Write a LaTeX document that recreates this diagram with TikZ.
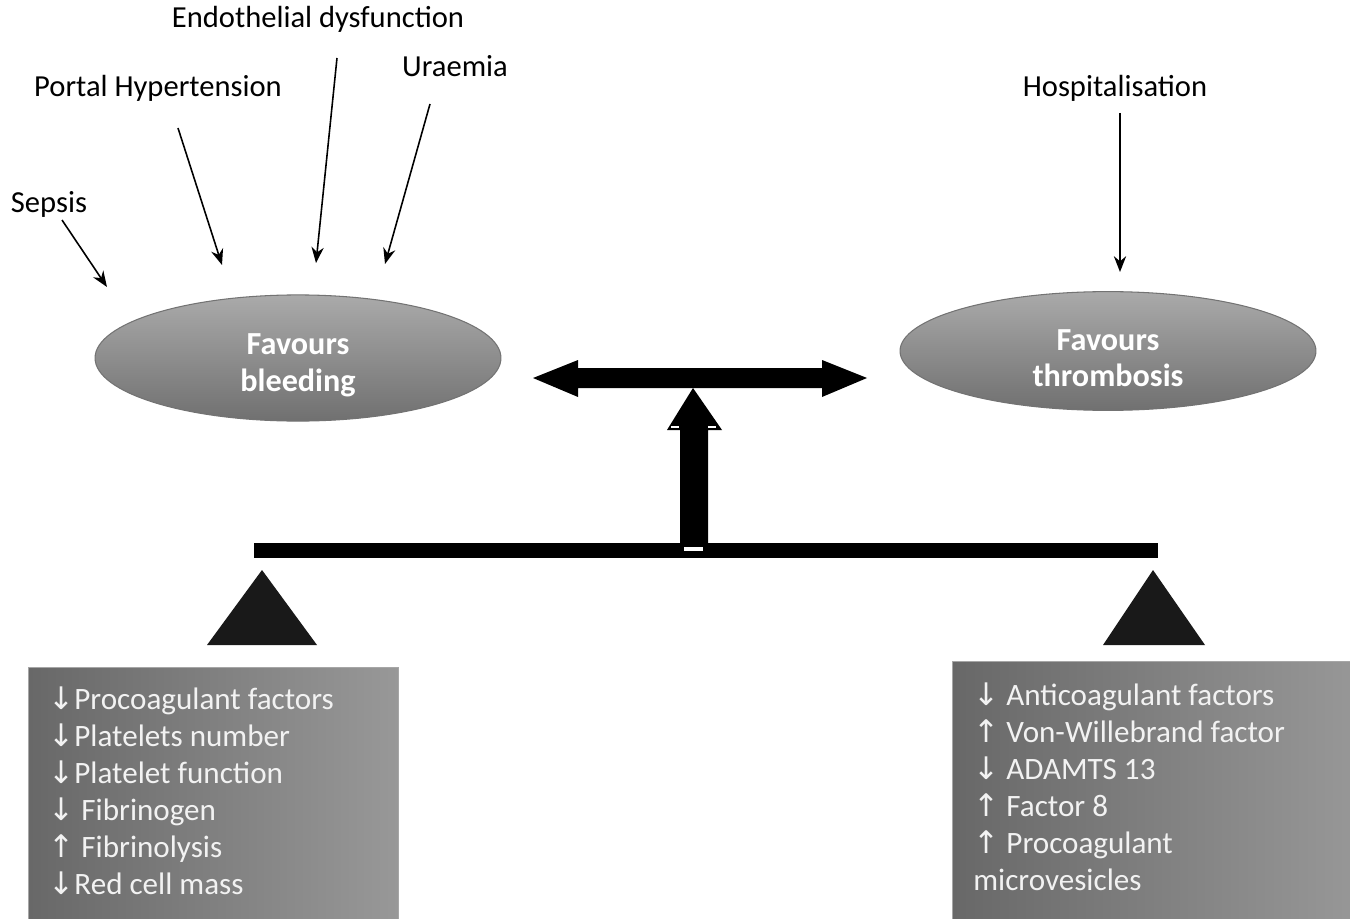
\documentclass[tikz,border=0pt]{standalone}
\usepackage{fontspec}
\setmainfont{Carlito}
\newfontfamily\arrfont{DejaVu Sans}
\usetikzlibrary{shapes.geometric,arrows.meta}
\newcommand{\DnA}{{\arrfont ↓}}
\newcommand{\UpA}{{\arrfont ↑}}
\definecolor{boxL}{RGB}{104,104,104}
\definecolor{boxR}{RGB}{152,152,152}
\definecolor{ovT}{RGB}{170,170,170}
\definecolor{ovB}{RGB}{112,112,112}
\begin{document}
\begin{tikzpicture}[x=0.02cm,y=-0.02cm,
  lbl/.style={font=\fontsize{17.4}{20}\selectfont, inner sep=0pt},
  cause/.style={-{Stealth[length=9pt,width=7pt]}, line width=0.9pt},
  oval/.style={ellipse, draw=black!55, line width=0.6pt, top color=ovT, bottom color=ovB,
    text=white, font=\bfseries\fontsize{18.3}{21}\selectfont, align=center, text height=41pt},
  panel/.style={rectangle, draw=black!35, line width=0.8pt, left color=boxL, right color=boxR, inner sep=0pt},
  paneltext/.style={text=white!95!black, font=\fontsize{17.7}{21.1}\selectfont, align=left, inner sep=0pt, anchor=north west},
  solid/.style={fill=black}
]
\useasboundingbox (0,0) rectangle (1350,919);
\clip (0,0) rectangle (1350,919);

% labels
\node[lbl] (endo) at (318,19) {Endothelial dysfunction};
\node[lbl] (portal) at (158,88) {Portal Hypertension};
\node[lbl] (urae) at (455,66) {Uraemia};
\node[lbl] (sepsis) at (49,204) {Sepsis};
\node[lbl] (hosp) at (1115,88) {Hospitalisation};

\coordinate (s0) at (62,220);   \coordinate (s1) at (107,287);
\coordinate (p0) at (178,128);  \coordinate (p1) at (222,265);
\coordinate (e0) at (337,58);   \coordinate (e1) at (316,263);
\coordinate (u0) at (430,104);  \coordinate (u1) at (385,264);
\coordinate (h0) at (1120,113); \coordinate (h1) at (1120,272);
\draw[cause] (s0) -- (s1);
\draw[cause] (p0) -- (p1);
\draw[cause] (e0) -- (e1);
\draw[cause] (u0) -- (u1);
\draw[cause] (h0) -- (h1);

% ovals
\node[oval, minimum width=8.12cm, minimum height=2.48cm] (bleed) at (298,358) {Favours\\bleeding};
\node[oval, minimum width=8.32cm, minimum height=2.24cm] (thromb) at (1108,351) {Favours\\thrombosis};

% double arrow
\fill[solid] (533,378) -- (578,360) -- (578,368) -- (822,368) -- (822,360) -- (867,378)
  -- (822,397) -- (822,388) -- (578,388) -- (578,397) -- cycle;
% vertical arrow
\fill[solid] (693,388) -- (722,430) -- (708,430) -- (708,550) -- (680,550) -- (680,430) -- (667,430) -- cycle;
% beam
\fill[solid] (254,543) rectangle (1158,558);
\fill[white] (684,547) rectangle (703,551);
\fill[white] (671,426) rectangle (679,428);
\fill[white] (708,426) rectangle (716,428);
% fulcrums
\fill[black!90] (262,570) -- (317,645) -- (207,645) -- cycle;
\fill[black!90] (1153,570) -- (1205,645) -- (1103,645) -- cycle;

% panels
\node[panel, anchor=north west, minimum width=7.4cm, minimum height=6cm] (lbox) at (28,667) {};
\node[panel, anchor=north west, minimum width=8.2cm, minimum height=6cm] (rbox) at (952,661) {};
\node[paneltext] (ltext) at (48,686) {\DnA Procoagulant factors\\ \DnA Platelets number\\ \DnA Platelet function\\ \DnA{} Fibrinogen\\ \UpA{} Fibrinolysis\\ \DnA Red cell mass};
\node[paneltext] (rtext) at (973,682) {\DnA{} Anticoagulant factors\\ \UpA{} Von-Willebrand factor\\ \DnA{} ADAMTS 13\\ \UpA{} Factor 8\\ \UpA{} Procoagulant\\ microvesicles};
\end{tikzpicture}
\end{document}
